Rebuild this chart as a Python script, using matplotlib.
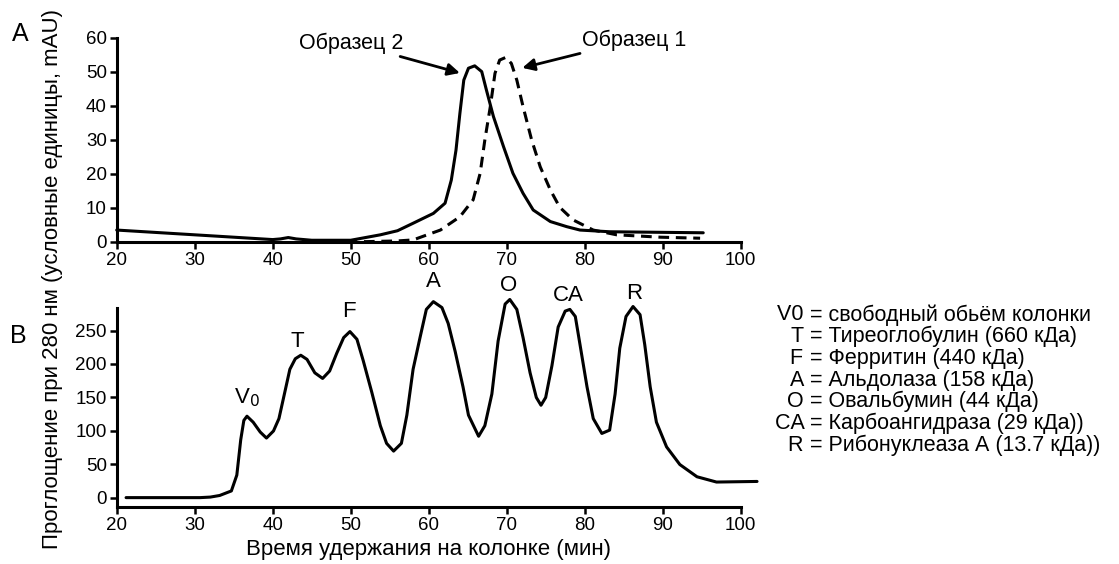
import matplotlib
matplotlib.use("Agg")
import matplotlib.pyplot as plt

plt.rcParams["font.family"] = ["Liberation Sans", "DejaVu Sans"]
plt.rcParams["font.size"] = 13

# Panel A: sample 2 (solid) and sample 1 (dashed)
a_s2_x = [20, 30, 40, 41, 42, 43, 45, 50, 53.8, 56.0, 58.0, 60.6, 62.1, 62.9, 63.5, 64.0,
          64.5, 65.1, 65.9, 66.8, 67.4, 68.3, 69.6, 70.8, 72.1, 73.4, 75.6, 77.7, 79.4,
          83.2, 95.2]
a_s2_y = [3.5, 2.1, 0.7, 0.9, 1.3, 0.9, 0.5, 0.5, 2.1, 3.3, 5.5, 8.4, 11.4, 18.2, 27.0,
          37.8, 47.6, 51.1, 51.8, 50.1, 44.7, 36.9, 28.0, 20.2, 14.3, 9.4, 6.0, 4.5, 3.5,
          3.0, 2.7]
a_s1_x = [45, 52, 56, 58.0, 61.5, 64.0, 65.7, 66.6, 67.2, 67.9, 68.5, 69.1, 69.9, 70.6,
          71.3, 72.1, 73.2, 74.3, 75.6, 76.8, 78.5, 81.1, 84.1, 89.7, 94.8]
a_s1_y = [0.0, 0.1, 0.3, 0.6, 3.5, 7.4, 12.4, 20.2, 30.0, 39.8, 49.6, 53.5, 54.3, 52.5,
          47.6, 39.8, 30.0, 22.1, 15.3, 10.2, 6.5, 3.5, 2.1, 1.4, 1.1]

# Panel B: calibration standards
b_x = [21.2, 30.7, 32.0, 33.2, 34.7, 35.4, 35.9, 36.3, 36.7, 37.5, 38.4, 39.2, 40.1, 40.8,
       41.6, 42.2, 42.9, 43.6, 44.4, 45.4, 46.4, 47.3, 48.2, 49.1, 49.9, 50.8, 51.6, 52.7,
       53.8, 54.6, 55.5, 56.5, 57.2, 58.0, 58.9, 59.7, 60.6, 61.7, 62.5, 63.4, 64.4, 65.1,
       66.4, 67.2, 68.1, 68.9, 69.8, 70.4, 71.3, 72.1, 73.0, 73.8, 74.4, 75.0, 75.8, 76.6,
       77.5, 78.1, 78.8, 79.4, 80.3, 81.1, 82.2, 83.2, 83.9, 84.5, 85.3, 86.2, 87.1, 87.7,
       88.4, 89.2, 90.5, 92.2, 94.4, 96.9, 102.1]
b_y = [0, 0, 0.8, 3.2, 10, 33.7, 86.5, 115.5, 121.8, 112.8, 98.1, 89.1, 99.7, 118.2,
       160.3, 192, 207.8, 213, 206.8, 186.7, 178.3, 189.4, 215.7, 239.4, 248.4, 236.9,
       205.2, 157.8, 107.6, 81.2, 69.6, 81.2, 123.4, 192, 240, 281.6, 293.2, 284.3, 260.6,
       218.4, 165.7, 123.4, 91.8, 107.6, 155, 234.2, 289.6, 296.4, 281.6, 239.4, 186.7,
       149.8, 138.2, 149.8, 197.3, 255.2, 279, 281.6, 271, 229, 165.7, 118.2, 96, 101,
       155, 223.6, 271, 285.9, 273.7, 229, 165.7, 112.8, 75.9, 49.5, 31.2, 23.3, 24.2]

peak_names = ["V$_0$", "T", "F", "A", "O", "CA", "R"]
peak_x = [36.7, 43.1, 49.8, 60.6, 70.2, 77.9, 86.4]
peak_label_y = [150, 234, 279, 324, 318, 303, 305]

legend_keys = ["V0", "T", "F", "A", "O", "CA", "R"]
legend_desc = ["свободный обьём колонки", "Тиреоглобулин (660 кДа)", "Ферритин (440 кДа)",
               "Альдолаза (158 кДа)", "Овальбумин (44 кДа)", "Карбоангидраза (29 кДа))",
               "Рибонуклеаза А (13.7 кДа))"]

fig = plt.figure(figsize=(11.19, 5.64), dpi=100)
ax1 = fig.add_axes([0.1043, 0.571, 0.5576, 0.3617])
ax2 = fig.add_axes([0.1043, 0.1011, 0.5576, 0.352])

for ax in (ax1, ax2):
    for s in ("top", "right"):
        ax.spines[s].set_visible(False)
    for s in ("left", "bottom"):
        ax.spines[s].set_linewidth(2.2)
    ax.tick_params(width=1.8, length=5, labelsize=13.5, pad=2)
    ax.set_xlim(20, 100)
    ax.set_xticks(range(20, 101, 10))

# panel A
line_kw = dict(color="black", lw=2.2, clip_on=False, solid_joinstyle="round",
               solid_capstyle="round")
ax1.plot(a_s2_x, a_s2_y, **line_kw)
ax1.plot(a_s1_x, a_s1_y, dashes=(3.5, 2.2), **line_kw)
ax1.set_ylim(0, 60)
ax1.set_yticks(range(0, 61, 10))
arrow = dict(arrowstyle="-|>", color="black", lw=2, mutation_scale=18, shrinkA=0, shrinkB=0)
ax1.annotate("Образец 2", xy=(64.0, 49.7), xytext=(56.8, 58.5), ha="right", va="center",
             fontsize=15.5, arrowprops=arrow, annotation_clip=False)
ax1.annotate("Образец 1", xy=(72.0, 51.2), xytext=(79.6, 59.4), ha="left", va="center",
             fontsize=15.5, arrowprops=arrow, annotation_clip=False)

# panel B
ax2.plot(b_x, b_y, **line_kw)
ax2.set_ylim(-14, 283)
ax2.set_yticks(range(0, 251, 50))
for name, px, py in zip(peak_names, peak_x, peak_label_y):
    ax2.text(px, py, name, ha="center", va="center", fontsize=16, clip_on=False)

fig.text(0.018, 0.94, "A", fontsize=18, ha="center", va="center")
fig.text(0.016, 0.405, "B", fontsize=18, ha="center", va="center")
fig.text(0.047, 0.505, "Проглощение при 280 нм (условные единицы, mAU)", rotation=90,
         ha="center", va="center", fontsize=16)
fig.text(0.383, 0.025, "Время удержания на колонке (мин)", ha="center", va="center",
         fontsize=16)

for i, (k, d) in enumerate(zip(legend_keys, legend_desc)):
    yy = 1 - (315 + i * 21.7) / 564
    fig.text(0.7235, yy, k + " ", ha="right", va="center", fontsize=15.5)
    fig.text(0.7235, yy, "= " + d, ha="left", va="center", fontsize=15.5)

fig.savefig("out.png", dpi=100)
